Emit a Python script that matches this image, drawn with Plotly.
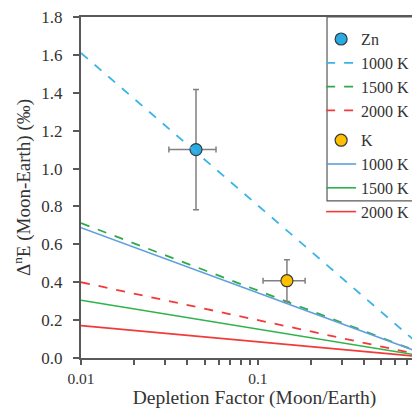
import plotly.graph_objects as go

# ---- data ----
depletion_x = [0.01, 1.0]          # ends of model curves (log-linear)
zn_1000 = [1.61, 0.0]
zn_1500 = [0.712, 0.0]
zn_2000 = [0.40, 0.0]
k_1000 = [0.688, 0.0]
k_1500 = [0.305, 0.0]
k_2000 = [0.171, 0.0]

zn_point_x = [0.0447]
zn_point_y = [1.10]
zn_err_x = [0.0133]
zn_err_y = [0.317]

k_point_x = [0.146]
k_point_y = [0.408]
k_err_x = [0.039]
k_err_y = [0.11]

x_tickvals = [0.01, 0.02, 0.03, 0.04, 0.05, 0.06, 0.07, 0.08, 0.09,
              0.1, 0.2, 0.3, 0.4, 0.5, 0.6, 0.7, 0.8, 0.9]
x_ticktext = ["0.01", "", "", "", "", "", "", "", "",
              "0.1", "", "", "", "", "", "", "", ""]
y_tickvals = [0.0, 0.2, 0.4, 0.6, 0.8, 1.0, 1.2, 1.4, 1.6, 1.8]

FONT = "Liberation Serif, Times New Roman, serif"
TXT = "#333333"
AX = "#595959"

fig = go.Figure()

# Zn group
fig.add_trace(go.Scatter(
    x=zn_point_x, y=zn_point_y, mode="markers", name="Zn", legendgroup="zn",
    marker=dict(size=12, color="#29abe2", line=dict(color="#2f3b45", width=1.2)),
    error_x=dict(type="data", array=zn_err_x, color="#808080", thickness=1.5, width=3),
    error_y=dict(type="data", array=zn_err_y, color="#808080", thickness=1.5, width=3),
))
for ys, col, nm in [(zn_1000, "#3ab4e6", "1000 K"), (zn_1500, "#2eaa4a", "1500 K"),
                    (zn_2000, "#f23a3a", "2000 K")]:
    fig.add_trace(go.Scatter(x=depletion_x, y=ys, mode="lines", name=nm, legendgroup="zn",
                             line=dict(color=col, width=1.8, dash="dash")))

# K group
for ys, col, nm in [(k_1000, "#5f9fdc", "1000 K"), (k_1500, "#2eb34a", "1500 K"),
                    (k_2000, "#f23a3a", "2000 K")]:
    fig.add_trace(go.Scatter(x=depletion_x, y=ys, mode="lines", name=nm, legendgroup="k",
                             line=dict(color=col, width=1.6)))
fig.add_trace(go.Scatter(
    x=k_point_x, y=k_point_y, mode="markers", name="K", legendgroup="k",
    marker=dict(size=12, color="#ffc000", line=dict(color="#3b3b3b", width=1.2)),
    error_x=dict(type="data", array=k_err_x, color="#808080", thickness=1.5, width=3),
    error_y=dict(type="data", array=k_err_y, color="#808080", thickness=1.5, width=3),
))
# ranks so K marker is first in its group
for i, tr in enumerate(fig.data):
    tr.legendrank = [100, 110, 120, 130, 210, 220, 230, 200][i]

fig.update_layout(
    width=420, height=412,
    margin=dict(l=73, r=0, t=9, b=62),
    paper_bgcolor="white", plot_bgcolor="white",
    font=dict(family=FONT, size=16, color=TXT),
    showlegend=True,
    legend=dict(x=0.692, y=0.985, xanchor="left", yanchor="top",
                bgcolor="rgba(0,0,0,0)", borderwidth=0,
                tracegroupgap=6, traceorder="grouped",
                font=dict(family=FONT, size=16, color=TXT)),
    shapes=[dict(type="rect", xref="paper", yref="paper",
                 x0=0.709, x1=1.2, y0=0.461, y1=1.0,
                 line=dict(color=AX, width=1.2), fillcolor="rgba(0,0,0,0)")],
)

fig.update_xaxes(
    type="log", range=[-2, -0.038],
    tickvals=x_tickvals, ticktext=x_ticktext,
    ticks="outside", ticklen=5, tickwidth=1.5, tickcolor=AX,
    showline=True, linecolor=AX, linewidth=2, mirror=True,
    showgrid=False, zeroline=False,
    tickfont=dict(family=FONT, size=15.5, color=TXT),
    title=dict(text="Depletion Factor (Moon/Earth)", standoff=4,
               font=dict(family=FONT, size=19.5, color=TXT)),
)
fig.update_yaxes(
    range=[0, 1.8], tickvals=y_tickvals, tickformat=".1f",
    ticks="outside", ticklen=6, tickwidth=1.5, tickcolor=AX,
    ticklabelstandoff=7, ticklabeloverflow="allow",
    showline=True, linecolor=AX, linewidth=2, mirror=False,
    showgrid=False, zeroline=False,
    tickfont=dict(family=FONT, size=17, color=TXT),
    title=dict(text="Δ<sup>n</sup>E (Moon-Earth) (‰)", standoff=6,
               font=dict(family=FONT, size=19, color=TXT)),
)

fig.write_html("out.html")
